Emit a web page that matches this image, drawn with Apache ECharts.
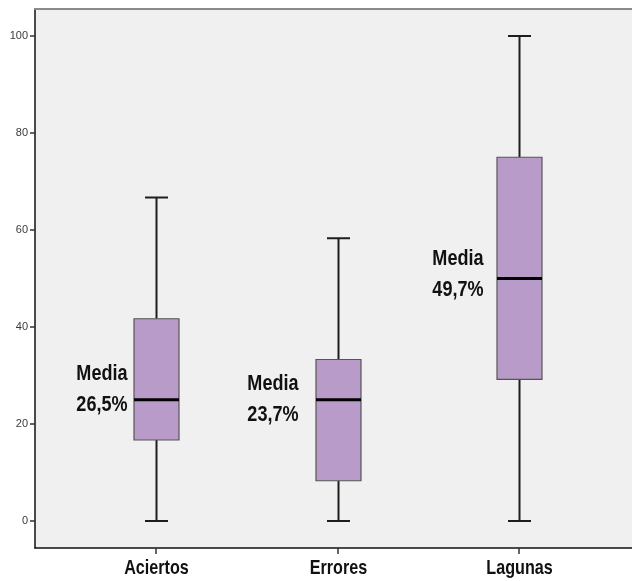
<!DOCTYPE html>
<html>
<head>
<meta charset="utf-8">
<script src="https://cdn.jsdelivr.net/npm/echarts@6/dist/echarts.min.js"></script>
<style>
  html, body { margin: 0; padding: 0; background: #ffffff; }
  #chart { width: 632px; height: 581px; }
</style>
</head>
<body>
<div id="chart"></div>
<script>
// Box-plot summary per group (percent)
const categories   = ['Aciertos', 'Errores', 'Lagunas'];
const whiskerLow   = [0, 0, 0];
const quartile1    = [16.7, 8.3, 29.2];
const medians      = [25, 25, 50];
const quartile3    = [41.7, 33.3, 75];
const whiskerHigh  = [66.7, 58.3, 100];
const means        = [26.5, 23.7, 49.7];
const yTickValues  = [0, 20, 40, 60, 80, 100];

// Pixel nudges for the "Media" annotations, relative to each box centre / mean
const noteOffsets = [[-29, -3], [-40, -7], [-36, -6]];

const Y_MIN = -5.57, Y_MAX = 105.57;
// Bold, horizontally squeezed lettering for the category names and notes
const BOLD_FONT = '"Liberation Sans", Arial, sans-serif';

const boxData = categories.map((c, i) => [
  i, whiskerLow[i], quartile1[i], medians[i], quartile3[i], whiskerHigh[i], means[i]
]);

function renderBox(params, api) {
  const i = api.value(0);
  const pLow = api.coord([i, api.value(1)]);
  const pQ1 = api.coord([i, api.value(2)]);
  const pMed = api.coord([i, api.value(3)]);
  const pQ3 = api.coord([i, api.value(4)]);
  const pHigh = api.coord([i, api.value(5)]);
  const pMean = api.coord([i, api.value(6)]);
  const pBase = api.coord([i, Y_MIN]);
  const cx = Math.round(pMed[0]) + 0.5;
  const boxW = 45;
  const capW = 23;
  const whiskerStyle = { stroke: '#1e1e1e', lineWidth: 2 };
  const off = noteOffsets[i];
  const meanTxt = api.value(6).toFixed(1).replace('.', ',') + '%';
  return {
    type: 'group',
    children: [
      { type: 'line', shape: { x1: cx, y1: pLow[1], x2: cx, y2: pQ1[1] }, style: whiskerStyle },
      { type: 'line', shape: { x1: cx, y1: pQ3[1], x2: cx, y2: pHigh[1] }, style: whiskerStyle },
      { type: 'line', shape: { x1: cx - capW / 2, y1: pLow[1], x2: cx + capW / 2, y2: pLow[1] }, style: whiskerStyle },
      { type: 'line', shape: { x1: cx - capW / 2, y1: pHigh[1], x2: cx + capW / 2, y2: pHigh[1] }, style: whiskerStyle },
      {
        type: 'rect',
        shape: { x: cx - boxW / 2, y: pQ3[1], width: boxW, height: pQ1[1] - pQ3[1] },
        style: { fill: '#b99bc9', stroke: '#555555', lineWidth: 1.2 }
      },
      {
        type: 'line',
        shape: { x1: cx - boxW / 2, y1: pMed[1], x2: cx + boxW / 2, y2: pMed[1] },
        style: { stroke: '#000000', lineWidth: 3 }
      },
      {
        type: 'text',
        x: cx + off[0],
        y: pMean[1] + off[1],
        scaleX: 0.82,
        style: {
          text: 'Media\n' + meanTxt,
          fill: '#111111',
          font: 'bold 22px ' + BOLD_FONT,
          lineHeight: 31,
          align: 'right',
          verticalAlign: 'middle'
        }
      },
      {
        // category name under the axis tick
        type: 'text',
        x: cx,
        y: pBase[1] + 20,
        scaleX: 0.77,
        style: {
          text: categories[i],
          fill: '#111111',
          font: 'bold 21px ' + BOLD_FONT,
          align: 'center',
          verticalAlign: 'middle'
        }
      }
    ]
  };
}

const chart = echarts.init(document.getElementById('chart'), null, { renderer: 'canvas' });
chart.setOption({
  animation: false,
  backgroundColor: '#ffffff',
  grid: [
    { left: 35, top: 9, right: 0, bottom: 33, show: true, backgroundColor: '#f0f0f0', borderWidth: 0 },
    { left: 65.25, width: 544.5, top: 9, bottom: 33 }
  ],
  xAxis: [
    {
      gridIndex: 0, type: 'value', min: 0, max: 1, position: 'bottom',
      axisLine: { show: true, onZero: false, lineStyle: { color: '#111111', width: 1.5 } },
      axisTick: { show: false }, axisLabel: { show: false }, splitLine: { show: false }
    },
    {
      gridIndex: 0, type: 'value', min: 0, max: 1, position: 'top',
      axisLine: { show: true, onZero: false, lineStyle: { color: '#8a8a8a', width: 2 } },
      axisTick: { show: false }, axisLabel: { show: false }, splitLine: { show: false }
    },
    {
      gridIndex: 1, type: 'category', data: categories, position: 'bottom',
      boundaryGap: true,
      axisLine: { show: false, onZero: false },
      axisTick: { show: true, alignWithLabel: true, length: 6, lineStyle: { color: '#333333', width: 1.5 } },
      axisLabel: { show: false },
      splitLine: { show: false }
    }
  ],
  yAxis: [
    {
      gridIndex: 0, type: 'value', min: Y_MIN, max: Y_MAX,
      axisLine: { show: true, onZero: false, lineStyle: { color: '#111111', width: 1.5 } },
      axisTick: { show: true, length: 5, customValues: yTickValues, lineStyle: { color: '#333333', width: 1.5 } },
      axisLabel: {
        customValues: yTickValues, margin: 7, fontSize: 11,
        fontFamily: '"Liberation Sans", Arial, sans-serif', color: '#3a3a3a'
      },
      splitLine: { show: false }
    },
    {
      gridIndex: 1, type: 'value', min: Y_MIN, max: Y_MAX, show: false
    }
  ],
  series: [
    {
      type: 'custom',
      xAxisIndex: 2,
      yAxisIndex: 1,
      clip: false,
      renderItem: renderBox,
      data: boxData,
      z: 5
    }
  ]
});
</script>
</body>
</html>
